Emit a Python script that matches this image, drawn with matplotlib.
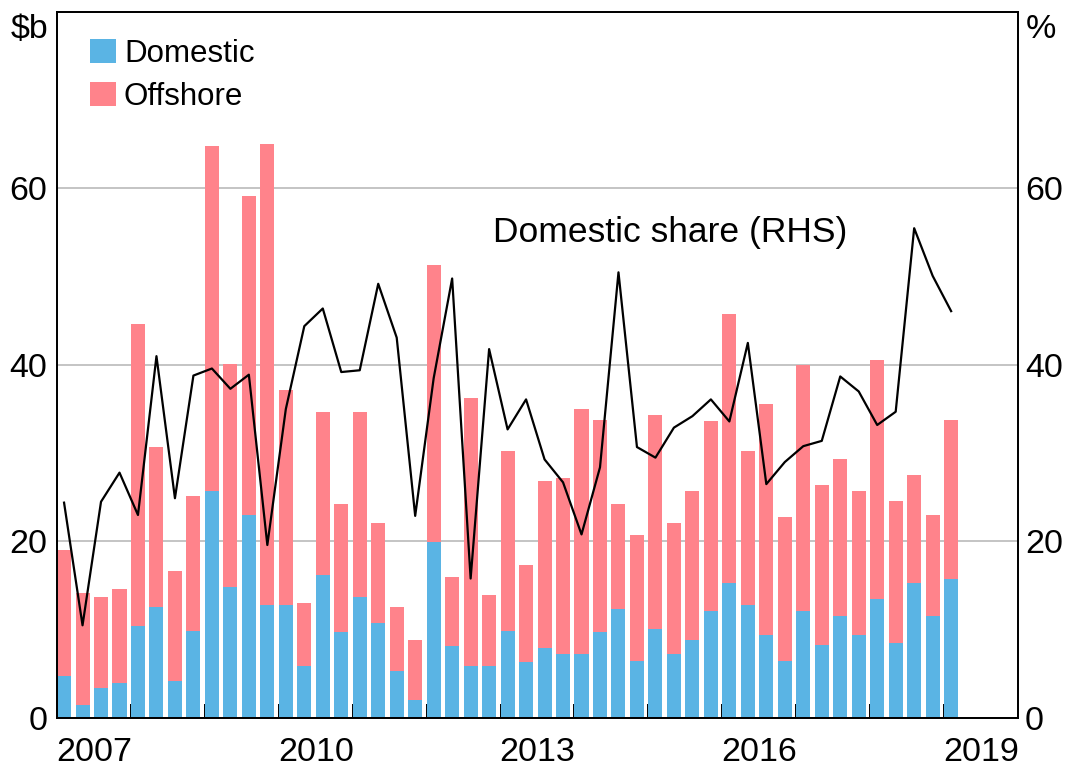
import matplotlib
matplotlib.use("Agg")
import matplotlib.pyplot as plt
import numpy as np

plt.rcParams['font.family'] = ['Liberation Sans', 'DejaVu Sans']

# quarterly data, 2007 Q1 to 2019 Q1
domestic = [4.7, 1.5, 3.4, 4.0, 10.4, 12.6, 4.2, 9.9, 25.7, 14.8, 23.0, 12.8, 12.8,
            5.9, 16.2, 9.7, 13.7, 10.8, 5.3, 2.0, 19.9, 8.1, 5.9, 5.9, 9.9, 6.3,
            7.9, 7.2, 7.2, 9.7, 12.4, 6.5, 10.1, 7.2, 8.8, 12.1, 15.3, 12.8, 9.4,
            6.5, 12.1, 8.3, 11.5, 9.4, 13.5, 8.5, 15.3, 11.5, 15.8]
total = [19.0, 14.2, 13.7, 14.6, 44.7, 30.7, 16.7, 25.2, 64.8, 40.1, 59.2, 65.0, 37.2,
         13.0, 34.7, 24.3, 34.7, 22.1, 12.6, 8.8, 51.3, 16.0, 36.3, 13.9, 30.2, 17.3,
         26.8, 27.2, 35.0, 33.8, 24.3, 20.7, 34.3, 22.1, 25.7, 33.6, 45.8, 30.2, 35.6,
         22.8, 40.0, 26.4, 29.3, 25.7, 40.6, 24.6, 27.5, 23.0, 33.8]
offshore = [t - d for t, d in zip(total, domestic)]
share = [24.4, 10.5, 24.5, 27.8, 23.0, 41.0, 24.9, 38.8, 39.6, 37.3, 38.9, 19.6, 35.0,
         44.4, 46.4, 39.2, 39.4, 49.2, 43.1, 22.9, 38.5, 49.8, 15.8, 41.8, 32.7, 36.1,
         29.3, 26.7, 20.8, 28.4, 50.5, 30.7, 29.5, 32.9, 34.2, 36.1, 33.6, 42.5, 26.5,
         29.0, 30.8, 31.4, 38.7, 37.0, 33.2, 34.7, 55.5, 50.1, 46.1]

start_year = 2007
year_labels = ['2007', '2010', '2013', '2016', '2019']

blue = '#5AB4E4'
pink = '#FF838B'

quarters = start_year + 0.25 * np.arange(len(total))

fig = plt.figure(figsize=(10.66, 7.74), dpi=100)
ax = fig.add_axes([0.0535, 0.0724, 0.9015, 0.9121])

ax.bar(quarters, domestic, width=0.19, align='edge', color=blue, label='Domestic', zorder=2)
ax.bar(quarters, offshore, width=0.19, align='edge', bottom=domestic, color=pink,
       label='Offshore', zorder=2)

ax.set_xlim(2007, 2020)
ax.set_ylim(0, 80)
ax.set_yticks([0, 20, 40, 60])
ax.set_yticklabels(['0', '20', '40', '60'])
ax.yaxis.grid(True, color='#b4b4b4', linewidth=1.1)
ax.set_axisbelow(True)
ax.tick_params(axis='y', length=0, labelsize=24.5, pad=7)

ax.set_xticks(np.arange(2008, 2020))
ax.set_xticklabels([])
ax.set_xticks([int(y) + 0.5 for y in year_labels], minor=True)
ax.set_xticklabels(year_labels, minor=True)
ax.tick_params(axis='x', which='major', direction='in', length=10, width=1.4)
ax.tick_params(axis='x', which='minor', length=0, labelsize=24.5, pad=14)

for s in ax.spines.values():
    s.set_linewidth(1.3)
    s.set_color('black')

ax2 = ax.twinx()
ax2.plot(quarters + 0.095, share, color='black', linewidth=1.6, zorder=3)
ax2.set_ylim(0, 80)
ax2.set_yticks([0, 20, 40, 60])
ax2.set_yticklabels(['0', '20', '40', '60'])
ax2.tick_params(axis='y', length=0, labelsize=24.5, pad=5)
for s in ax2.spines.values():
    s.set_linewidth(1.3)

ax.text(-0.009, 0.997, '$b', transform=ax.transAxes, ha='right', va='top', fontsize=24.5)
ax2.text(1.008, 0.997, '%', transform=ax2.transAxes, ha='left', va='top', fontsize=24.5)

ax2.text(2012.9, 55, 'Domestic share (RHS)', fontsize=25.5, ha='left', va='center')

ax.legend(loc='upper left', bbox_to_anchor=(0.015, 0.988), frameon=False, fontsize=22.5,
          handlelength=0.83, handleheight=0.8, handletextpad=0.25, labelspacing=0.4,
          borderaxespad=0.2)

fig.savefig('out.png', dpi=100)
